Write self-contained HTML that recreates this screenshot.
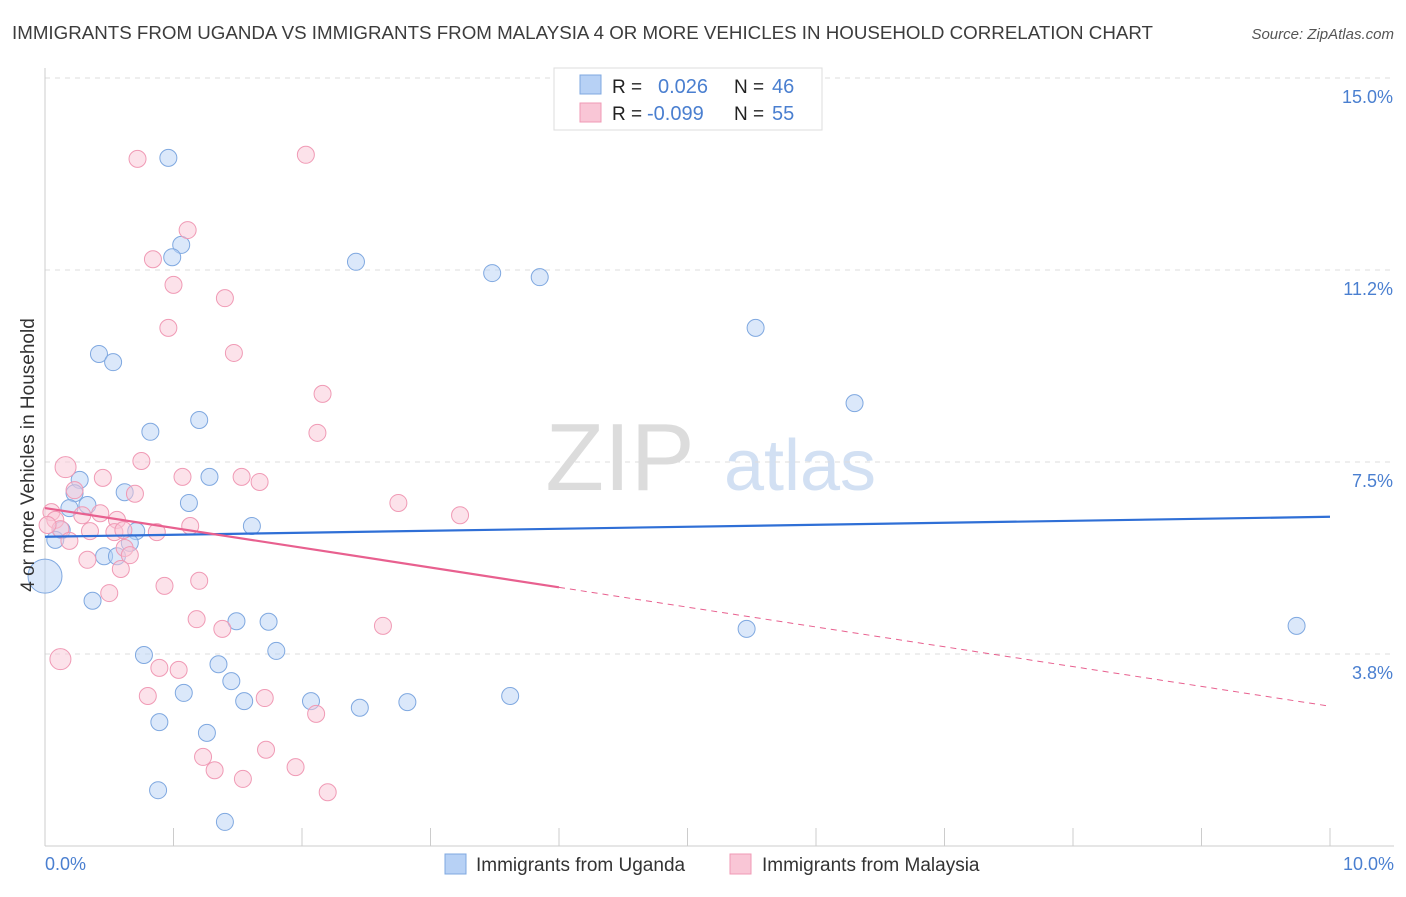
<!DOCTYPE html>
<html><head><meta charset="utf-8"><style>
body{margin:0;background:#fff;font-family:"Liberation Sans",sans-serif;}
svg text{font-family:"Liberation Sans",sans-serif;}
</style></head><body>
<svg id="chart" width="1406" height="892" viewBox="0 0 1406 892">
<text x="12" y="39" font-size="18.6" fill="#3c3c3c" textLength="1141" lengthAdjust="spacingAndGlyphs">IMMIGRANTS FROM UGANDA VS IMMIGRANTS FROM MALAYSIA 4 OR MORE VEHICLES IN HOUSEHOLD CORRELATION CHART</text>
<text x="1394" y="39" font-size="15" font-style="italic" fill="#555" text-anchor="end">Source: ZipAtlas.com</text>
<text x="620" y="490" font-size="96" font-family="Liberation Serif" fill="#dcdcdc" text-anchor="middle">ZIP</text>
<text x="800" y="490" font-size="72" fill="#d2e0f3" text-anchor="middle">atlas</text>
<g id="grid"></g><g id="axes"></g><g id="pts"></g><g id="lines"></g>
<text transform="translate(34,455) rotate(-90)" font-size="19" fill="#333" text-anchor="middle">4 or more Vehicles in Household</text>
<text x="45" y="870" font-size="18" fill="#4a7fd0">0.0%</text>
<text x="1394" y="870" font-size="18" fill="#4a7fd0" text-anchor="end">10.0%</text>
<g>
<rect x="554" y="68" width="268" height="62" fill="#fff" stroke="#ddd"/>
<rect x="580" y="75" width="21" height="19" fill="#b7d1f5" stroke="#7fa8e0"/>
<rect x="580" y="103" width="21" height="19" fill="#f9c6d6" stroke="#f09ab5"/>
<text x="612" y="93" font-size="19" fill="#222">R = </text><text x="658" y="93" font-size="20" fill="#4a7fd0">0.026</text>
<text x="734" y="93" font-size="19" fill="#222">N = </text><text x="772" y="93" font-size="20" fill="#4a7fd0">46</text>
<text x="612" y="120" font-size="19" fill="#222">R = </text><text x="647" y="120" font-size="20" fill="#4a7fd0">-0.099</text>
<text x="734" y="120" font-size="19" fill="#222">N = </text><text x="772" y="120" font-size="20" fill="#4a7fd0">55</text>
</g>
<g>
<rect x="445" y="854" width="21" height="20" fill="#b7d1f5" stroke="#7fa8e0"/>
<text x="476" y="871" font-size="19" fill="#333">Immigrants from Uganda</text>
<rect x="730" y="854" width="21" height="20" fill="#f9c6d6" stroke="#f09ab5"/>
<text x="762" y="871" font-size="19" fill="#333">Immigrants from Malaysia</text>
</g>
</svg>
<script>
const yTicks=[15.0,11.2,7.5,3.8];
const yTickVals=[15,11.25,7.5,3.75];
const ugandaX=[0.96,1.06,0.99,2.42,3.48,3.85,5.53,0.42,0.53,6.30,0.82,1.20,0.27,1.28,0.62,0.23,0.33,1.12,0.19,0.13,0.08,0.71,1.61,0.66,0.46,0.56,0.0,0.37,1.49,1.74,5.46,9.74,0.77,1.80,1.35,1.45,1.08,2.07,1.55,2.82,3.62,2.45,0.89,1.26,0.88,1.40];
const ugandaY=[13.44,11.74,11.50,11.41,11.19,11.11,10.12,9.61,9.45,8.65,8.09,8.32,7.15,7.21,6.91,6.89,6.66,6.70,6.60,6.17,5.98,6.15,6.25,5.92,5.66,5.66,5.27,4.79,4.39,4.38,4.24,4.30,3.73,3.81,3.55,3.22,2.99,2.83,2.83,2.81,2.93,2.70,2.42,2.21,1.09,0.47];
const malaysiaX=[0.72,2.03,1.11,0.84,1.00,1.40,0.96,1.47,2.16,2.12,0.16,0.75,1.07,1.53,1.67,0.23,0.45,0.70,2.75,3.23,0.05,0.08,0.29,0.43,0.56,0.12,0.35,0.54,0.61,1.13,0.87,0.19,0.62,0.66,0.33,0.59,0.93,1.20,0.50,1.18,1.38,2.63,0.12,0.89,1.04,0.80,1.71,2.11,1.23,1.72,1.32,1.95,1.54,2.20,0.02];
const malaysiaY=[13.42,13.50,12.03,11.46,10.96,10.70,10.12,9.63,8.83,8.07,7.40,7.52,7.21,7.21,7.11,6.95,7.19,6.88,6.70,6.46,6.52,6.37,6.46,6.50,6.37,6.19,6.15,6.13,6.17,6.25,6.13,5.96,5.82,5.68,5.59,5.41,5.08,5.18,4.94,4.43,4.24,4.30,3.65,3.48,3.44,2.93,2.89,2.58,1.74,1.88,1.48,1.54,1.31,1.05,6.27];
const ugandaTrend=[6.04,6.43];
const malaysiaTrend=[6.6,2.73];
const NS="http://www.w3.org/2000/svg";
const sx=v=>45+v*128.5, sy=v=>846-v*51.2;
function mk(t,a,p){const e=document.createElementNS(NS,t);for(const k in a)e.setAttribute(k,a[k]);document.getElementById(p).appendChild(e);return e;}
yTickVals.forEach((v,i)=>{
 const g=mk('line',{x1:45,x2:1394,y1:sy(v),y2:sy(v),stroke:'#ddd','stroke-dasharray':'5,5'},'grid');
 
 
 const t=mk('text',{x:1393,y:sy(v)+25,'font-size':18,fill:'#4a7fd0','text-anchor':'end'},'grid');
 t.textContent=yTicks[i].toFixed(1)+'%';
 
 
});
const ax=mk('line',{x1:45,x2:1394,y1:846,y2:846,stroke:'#ccc'},'axes');


const ay=mk('line',{x1:45,x2:45,y1:68,y2:846,stroke:'#ccc'},'axes');


for(let i=1;i<=10;i++){const t=mk('line',{x1:sx(i),x2:sx(i),y1:828,y2:846,stroke:'#ccc'},'axes');
 
 }
function pts(X,Y,fill,stroke,name){X.forEach((x,i)=>{
 let r=8.5; if(x===0&&Math.abs(Y[i]-5.27)<0.01)r=17;
 if(name==='malaysia-point'&&(i===42||i===10))r=10.5;
 const c=mk('circle',{cx:sx(x),cy:sy(Y[i]),r:r,fill:fill,stroke:stroke,'stroke-width':1,'fill-opacity':0.5},'pts');
 
 });}
pts(ugandaX,ugandaY,'#b7d1f5','#7fa8e0','uganda-point');
pts(malaysiaX,malaysiaY,'#f9c6d6','#f09ab5','malaysia-point');
const l1=mk('line',{x1:sx(0),y1:sy(ugandaTrend[0]),x2:sx(10),y2:sy(ugandaTrend[1]),stroke:'#2f6fd6','stroke-width':2.2},'lines');


const my=x=>malaysiaTrend[0]+(malaysiaTrend[1]-malaysiaTrend[0])*x/10;
const l2=mk('line',{x1:sx(0),y1:sy(my(0)),x2:sx(4),y2:sy(my(4)),stroke:'#e8608f','stroke-width':2.2},'lines');


const l3=mk('line',{x1:sx(4),y1:sy(my(4)),x2:sx(10),y2:sy(my(10)),stroke:'#e8608f','stroke-width':1,'stroke-dasharray':'6,5'},'lines');


</script>
</body></html>
